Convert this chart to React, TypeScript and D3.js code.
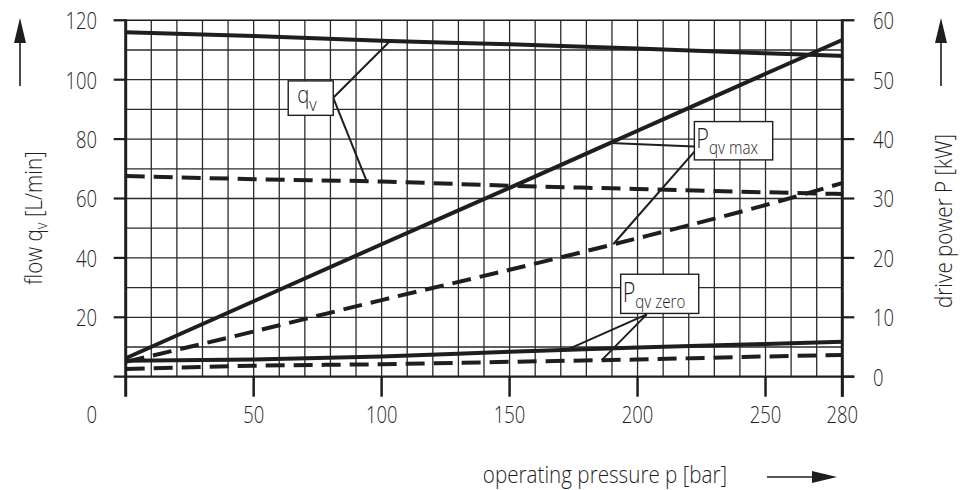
import React from "react";
import * as d3 from "d3";

// ---- data ----
const pressure = [0, 50, 100, 150, 200, 250, 280]; // bar
// flow q_v [L/min] (left axis)
const flowMax = [116, 114.7, 113.1, 111.9, 110.5, 108.9, 108];
const flowPart = [67.6, 66.5, 65.7, 64.3, 63.2, 62.1, 61.5];
// drive power P [kW] (right axis)
const powerMax = [3.1, 12.7, 22.3, 31.8, 41.4, 51.0, 56.7];
const powerMaxPart = [2.5, 7.6, 12.9, 18.0, 23.3, 28.9, 32.6];
const powerZero = [2.7, 2.9, 3.4, 4.2, 4.9, 5.5, 5.9];
const powerZeroPart = [1.3, 1.85, 2.1, 2.5, 2.9, 3.4, 3.65];

const xTicks = [50, 100, 150, 200, 250, 280];
const leftTicks = [20, 40, 60, 80, 100, 120];
const rightTicks = [0, 10, 20, 30, 40, 50, 60];

const FONT = "'Open Sans', 'Noto Sans', 'DejaVu Sans', sans-serif";
const INK = "#1e1e1e";

type TP = {
  x: number; y: number; rot?: number; sx?: number; size: number;
  anchor?: "start" | "middle" | "end"; baseline?: string; children: React.ReactNode;
};
const T = ({ x, y, rot = 0, sx = 0.8, size, anchor = "start", baseline, children }: TP) => (
  <text
    transform={`translate(${x},${y}) rotate(${rot}) scale(${sx},1)`}
    fontSize={size}
    textAnchor={anchor}
    dominantBaseline={baseline as any}
  >
    {children}
  </text>
);

export default function App() {
  const W = 960, H = 490;
  const x = d3.scaleLinear().domain([0, 280]).range([125.7, 842.3]);
  const yL = d3.scaleLinear().domain([0, 120]).range([376.7, 20.3]);
  const yR = d3.scaleLinear().domain([0, 60]).range([376.7, 20.3]);

  const lineL = d3.line<number>().x((_, i) => x(pressure[i])).y((d) => yL(d)).curve(d3.curveMonotoneX);
  const lineR = d3.line<number>().x((_, i) => x(pressure[i])).y((d) => yR(d)).curve(d3.curveMonotoneX);

  const interp = (arr: number[], p: number) => {
    const i = Math.min(pressure.length - 2, d3.bisectRight(pressure, p) - 1);
    const t = (p - pressure[i]) / (pressure[i + 1] - pressure[i]);
    return arr[i] + t * (arr[i + 1] - arr[i]);
  };

  const x0 = x(0), x1 = x(280), yTop = yL(120), yBot = yL(0);
  const vGrid = d3.range(10, 280, 10);
  const hGrid = d3.range(10, 120, 10);

  // annotation boxes in data units (pressure, left-axis value)
  const boxes = [
    { p0: 63.5, p1: 81.1, v0: 99.6, v1: 88.0 },
    { p0: 222.2, p1: 252.8, v0: 85.9, v1: 73.0 },
    { p0: 193.4, p1: 223.9, v0: 34.5, v1: 21.3 },
  ];
  const leaders = [
    { fp: 81.1, fv: 93.9, tp: 103.3, tv: interp(flowMax, 103.3) },
    { fp: 81.1, fv: 93.9, tp: 94.2, tv: interp(flowPart, 94.2) },
    { fp: 222.2, fv: 77.5, tp: 189.3, tv: interp(powerMax, 189.3) * 2 },
    { fp: 222.2, fv: 75.8, tp: 190.5, tv: interp(powerMaxPart, 190.5) * 2 },
    { fp: 203.6, fv: 21.0, tp: 172.3, tv: interp(powerZero, 172.3) * 2 },
    { fp: 203.6, fv: 21.0, tp: 186.0, tv: interp(powerZeroPart, 186.0) * 2 },
  ];

  const dash = "19 9";

  return (
    <svg width={W} height={H} style={{ display: "block", position: "absolute", left: 0, top: 0, background: "#fff" }}>
      <rect width={W} height={H} fill="#fff" />
      {/* grid */}
      <g stroke="#2b2b2b" strokeWidth={1.3}>
        {vGrid.map((p) => (
          <line key={"v" + p} x1={x(p)} x2={x(p)} y1={yTop} y2={yBot} />
        ))}
        {hGrid.map((v) => (
          <line key={"h" + v} x1={x0} x2={x1} y1={yL(v)} y2={yL(v)} />
        ))}
      </g>
      {/* axes */}
      <g stroke={INK}>
        <line x1={x0 - 12} x2={x1 + 12} y1={yTop} y2={yTop} strokeWidth={1.6} />
        <line x1={x0 - 12} x2={x1 + 12} y1={yBot} y2={yBot} strokeWidth={2.2} />
        <line x1={x0} x2={x0} y1={yTop - 1} y2={yBot + 20} strokeWidth={3} />
        <line x1={x1} x2={x1} y1={yTop - 1} y2={yBot + 20} strokeWidth={3} />
        {leftTicks.map((v) => (
          <line key={"lt" + v} x1={x0 - 12} x2={x0} y1={yL(v)} y2={yL(v)} strokeWidth={2.2} />
        ))}
        {rightTicks.map((v) => (
          <line key={"rt" + v} x1={x1} x2={x1 + 12} y1={yR(v)} y2={yR(v)} strokeWidth={2.2} />
        ))}
        {xTicks.map((p) => (
          <line key={"xt" + p} x1={x(p)} x2={x(p)} y1={yBot} y2={yBot + 20} strokeWidth={2.5} />
        ))}
      </g>
      {/* tick labels */}
      <g fontFamily={FONT} fontWeight={300} fill={INK}>
        {leftTicks.map((v) => (
          <T key={"ll" + v} x={97} y={yL(v)} size={23} anchor="end" baseline="central">{v}</T>
        ))}
        <T x={97} y={414} size={23} anchor="end" baseline="central">0</T>
        {rightTicks.map((v) => (
          <T key={"rl" + v} x={873} y={yR(v)} size={23} baseline="central">{v}</T>
        ))}
        {xTicks.map((p) => (
          <T key={"xl" + p} x={x(p)} y={414} size={23} anchor="middle" baseline="central">{p}</T>
        ))}
      </g>
      {/* curves */}
      <g fill="none" stroke={INK} strokeWidth={4}>
        <path d={lineL(flowMax) || ""} />
        <path d={lineL(flowPart) || ""} strokeDasharray={dash} />
        <path d={lineR(powerMax) || ""} />
        <path d={lineR(powerMaxPart) || ""} strokeDasharray={dash} />
        <path d={lineR(powerZero) || ""} />
        <path d={lineR(powerZeroPart) || ""} strokeDasharray={dash} />
      </g>
      {/* leaders */}
      <g stroke={INK} strokeWidth={2}>
        {leaders.map((l, i) => (
          <line key={"ld" + i} x1={x(l.fp)} y1={yL(l.fv)} x2={x(l.tp)} y2={yL(l.tv)} />
        ))}
      </g>
      {/* boxes */}
      <g fill="#fff" stroke={INK} strokeWidth={1.4}>
        {boxes.map((b, i) => (
          <rect key={"bx" + i} x={x(b.p0)} y={yL(b.v0)} width={x(b.p1) - x(b.p0)} height={yL(b.v1) - yL(b.v0)} />
        ))}
      </g>
      <g fontFamily={FONT} fontWeight={300} fill={INK}>
        <T x={x(63.5) + 9} y={102.5} size={24} sx={0.85}>
          q<tspan fontSize={19} dy={8}>v</tspan>
        </T>
        <T x={x(222.2) + 2} y={147.5} size={27} sx={0.8}>
          P<tspan fontSize={19} dy={6}>qv max</tspan>
        </T>
        <T x={x(193.4) + 2} y={yL(25.3)} size={27} sx={0.8}>
          P<tspan fontSize={19} dy={6}>qv zero</tspan>
        </T>
      </g>
      {/* axis titles */}
      <g fontFamily={FONT} fontWeight={300} fill={INK}>
        <T x={42} y={218} rot={-90} sx={0.86} size={24} anchor="middle">
          flow q<tspan fontSize={17} dy={5}>v</tspan><tspan dy={-5}>{"  [L/min]"}</tspan>
        </T>
        <T x={952} y={221} rot={-90} sx={0.86} size={24} anchor="middle">drive power P [kW]</T>
        <T x={605} y={483} sx={0.86} size={24} anchor="middle">operating pressure p [bar]</T>
      </g>
      {/* arrows */}
      <g stroke={INK} fill={INK}>
        <line x1={20} x2={20} y1={86} y2={40} strokeWidth={1.6} />
        <path d="M20,18 L14,43 L26,43 Z" stroke="none" />
        <line x1={941} x2={941} y1={86} y2={40} strokeWidth={1.6} />
        <path d="M941,18 L935,43 L947,43 Z" stroke="none" />
        <line x1={767} x2={815} y1={477} y2={477} strokeWidth={1.6} />
        <path d="M837,477 L812,471 L812,483 Z" stroke="none" />
      </g>
    </svg>
  );
}
